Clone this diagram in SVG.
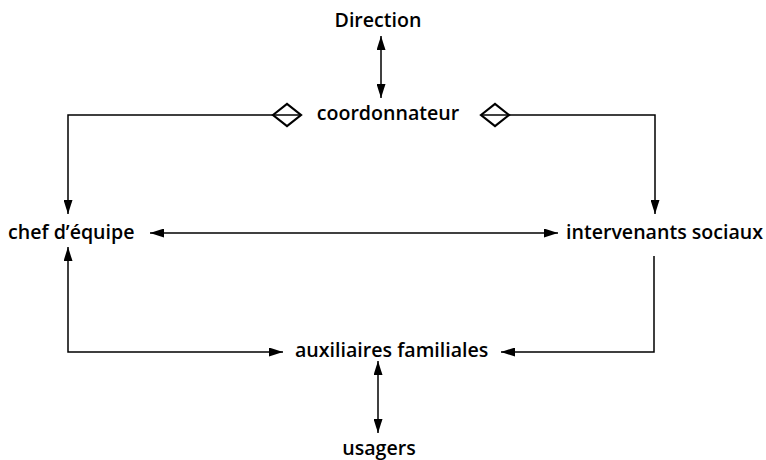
<svg xmlns="http://www.w3.org/2000/svg" width="766" height="460" viewBox="0 0 766 460">
<defs>
<marker id="ah" viewBox="0 0 14 9" refX="14" refY="4.5" markerWidth="14" markerHeight="9" markerUnits="userSpaceOnUse" orient="auto-start-reverse">
<path d="M0,0 L14,4.5 L0,9 Z" fill="#000"/>
</marker>
</defs>
<style>
.t{font-family:"Open Sans","Liberation Sans",sans-serif;font-weight:600;font-size:19.6px;fill:#000}
.c{fill:none;stroke:#000;stroke-width:1.5}
.d{fill:#fff;stroke:#000;stroke-width:2.2}
</style>
<rect width="766" height="460" fill="#fff"/>
<g id="connectors">
<line class="c" x1="381" y1="36" x2="381" y2="98" marker-start="url(#ah)" marker-end="url(#ah)"/>
<polyline class="c" points="273,115 68,115 68,214" marker-end="url(#ah)"/>
<polyline class="c" points="509,115 655,115 655,214" marker-end="url(#ah)"/>
<line class="c" x1="150" y1="233" x2="558" y2="233" marker-start="url(#ah)" marker-end="url(#ah)"/>
<polyline class="c" points="68,247 68,352 283,352" marker-start="url(#ah)" marker-end="url(#ah)"/>
<polyline class="c" points="654,256 654,352 501,352" marker-end="url(#ah)"/>
<line class="c" x1="378" y1="361" x2="378" y2="433" marker-start="url(#ah)" marker-end="url(#ah)"/>
<path class="d" d="M273,115 L287,104 L301,115 L287,126 Z"/>
<line class="c" x1="273" y1="115" x2="301" y2="115"/>
<path class="d" d="M481,115 L495,104 L509,115 L495,126 Z"/>
<line class="c" x1="481" y1="115" x2="509" y2="115"/>
</g>
<g id="direction"><text class="t" x="378" y="27" text-anchor="middle">Direction</text></g>
<g id="coordonnateur"><text class="t" x="388" y="120" text-anchor="middle">coordonnateur</text></g>
<g id="chef"><text class="t" x="8" y="239">chef d’équipe</text></g>
<g id="intervenants"><text class="t" x="566" y="239">intervenants sociaux</text></g>
<g id="auxiliaires"><text class="t" x="295" y="357">auxiliaires familiales</text></g>
<g id="usagers"><text class="t" x="379" y="455" text-anchor="middle">usagers</text></g>
</svg>
